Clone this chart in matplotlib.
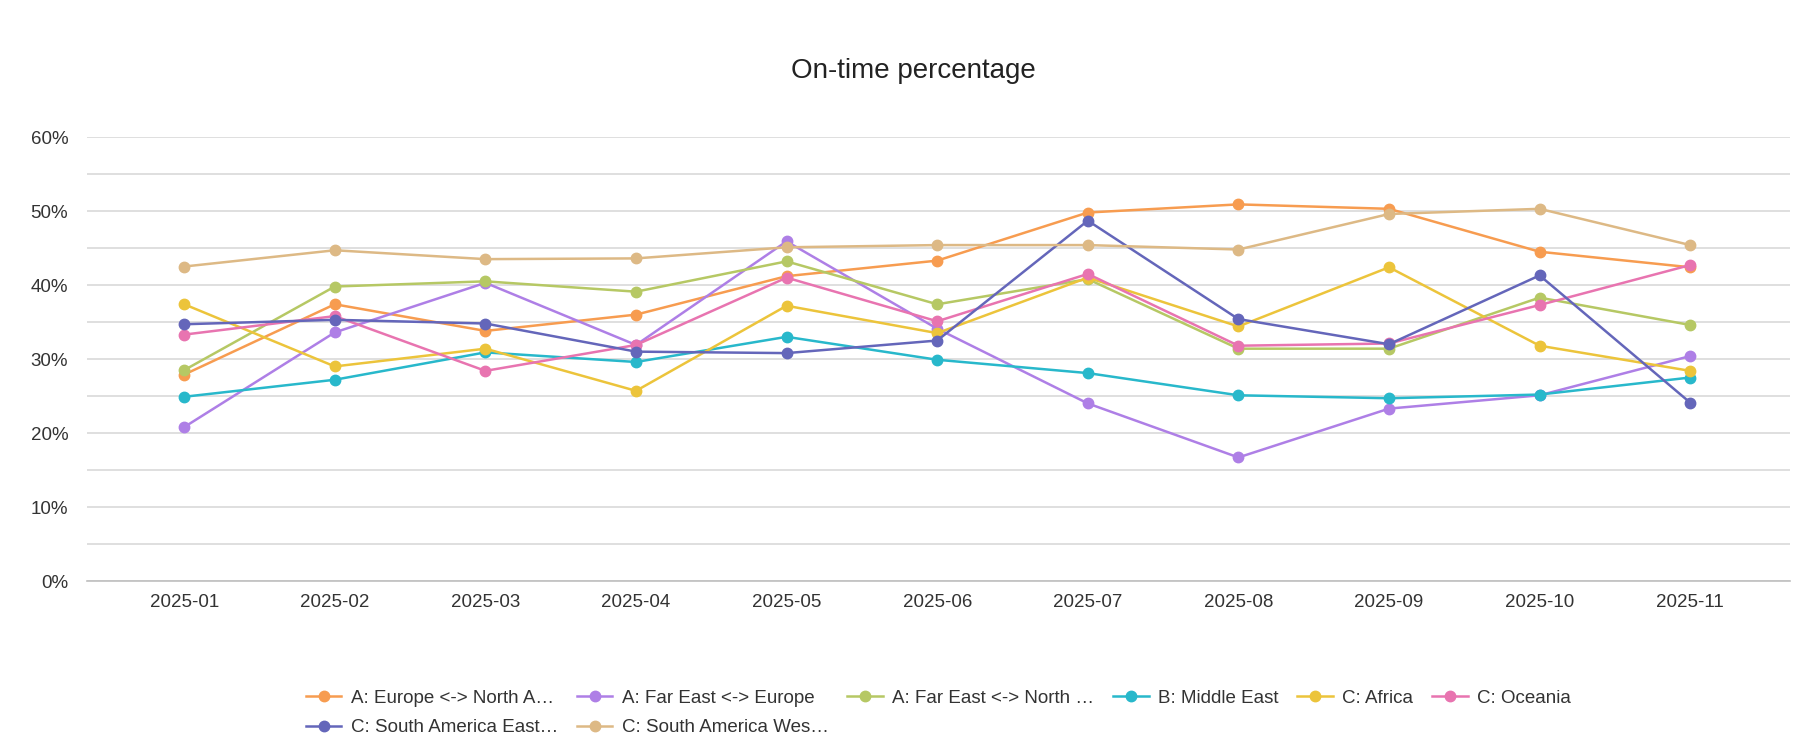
import matplotlib
matplotlib.use("Agg")
import matplotlib.pyplot as plt
from matplotlib.ticker import MultipleLocator, FuncFormatter
import numpy as np

plt.rcParams['font.family'] = ['Liberation Sans', 'DejaVu Sans']

months = ["2025-01", "2025-02", "2025-03", "2025-04", "2025-05", "2025-06",
          "2025-07", "2025-08", "2025-09", "2025-10", "2025-11"]

# on-time percentage per lane
europe_north_america = [27.9, 37.4, 33.8, 36.0, 41.2, 43.3, 49.8, 50.9, 50.3, 44.5, 42.4]
far_east_europe = [20.8, 33.6, 40.3, 31.9, 45.9, 34.1, 24.0, 16.7, 23.3, 25.1, 30.4]
far_east_north_america = [28.5, 39.8, 40.5, 39.1, 43.2, 37.4, 40.8, 31.4, 31.4, 38.3, 34.6]
middle_east = [24.9, 27.2, 30.9, 29.6, 33.0, 29.9, 28.1, 25.1, 24.7, 25.2, 27.5]
africa = [37.4, 29.0, 31.4, 25.7, 37.2, 33.5, 41.0, 34.4, 42.4, 31.8, 28.4]
oceania = [33.3, 35.8, 28.4, 31.9, 41.0, 35.1, 41.5, 31.8, 32.1, 37.3, 42.7]
south_america_east = [34.7, 35.3, 34.8, 31.0, 30.8, 32.5, 48.7, 35.4, 32.0, 41.3, 24.1]
south_america_west = [42.5, 44.7, 43.5, 43.6, 45.1, 45.4, 45.4, 44.8, 49.6, 50.3, 45.4]

labels = ["A: Europe <-> North A…", "A: Far East <-> Europe", "A: Far East <-> North …",
          "B: Middle East", "C: Africa", "C: Oceania",
          "C: South America East…", "C: South America Wes…"]
series = [europe_north_america, far_east_europe, far_east_north_america, middle_east,
          africa, oceania, south_america_east, south_america_west]
colors = ["#F79C50", "#AE7FE6", "#B6C864", "#28B8CB", "#ECC43B", "#E874B0", "#6466BA", "#DDB985"]

fig = plt.figure(figsize=(17.95, 7.53), dpi=100)
ax = fig.add_axes([0.0485, 0.2284, 0.9485, 0.5896])

x = np.arange(len(months))
handles = []
for vals, lab, c in zip(series, labels, colors):
    h, = ax.plot(x, np.array(vals) / 100, '-o', color=c, lw=1.8, ms=7.5, label=lab)
    handles.append(h)

ax.set_xlim(-0.645, 10.66)
ax.set_ylim(0, 0.6)
ax.set_xticks(x)
ax.set_xticklabels(months)
ax.yaxis.set_major_locator(MultipleLocator(0.1))
ax.yaxis.set_minor_locator(MultipleLocator(0.05))
ax.yaxis.set_major_formatter(FuncFormatter(lambda v, p: "{:.0f}%".format(v * 100)))
ax.grid(axis='y', which='both', color='#d9d9d9', lw=1.2)
ax.set_axisbelow(True)
for s in ['top', 'right', 'left']:
    ax.spines[s].set_visible(False)
ax.spines['bottom'].set_color('#bfbfbf')
ax.spines['bottom'].set_linewidth(1.2)
ax.tick_params(axis='both', which='both', length=0, labelsize=13.5, labelcolor='#333333')
ax.tick_params(axis='y', pad=13.5)
ax.tick_params(axis='x', pad=9)

fig.text(0.509, 0.906, "On-time percentage", ha='center', va='center', fontsize=20, color='#222222')

# matplotlib fills legend columns first, so reorder to get row-major layout
order = [0, 6, 1, 7, 2, 3, 4, 5]
fig.legend([handles[i] for i in order], [labels[i] for i in order],
           loc='center', bbox_to_anchor=(0.5228, 0.053), ncol=6, frameon=False,
           fontsize=13.5, labelcolor='#333333', handlelength=1.9, columnspacing=1.0,
           handletextpad=0.5, labelspacing=0.65)

fig.savefig("out.png", dpi=100)
